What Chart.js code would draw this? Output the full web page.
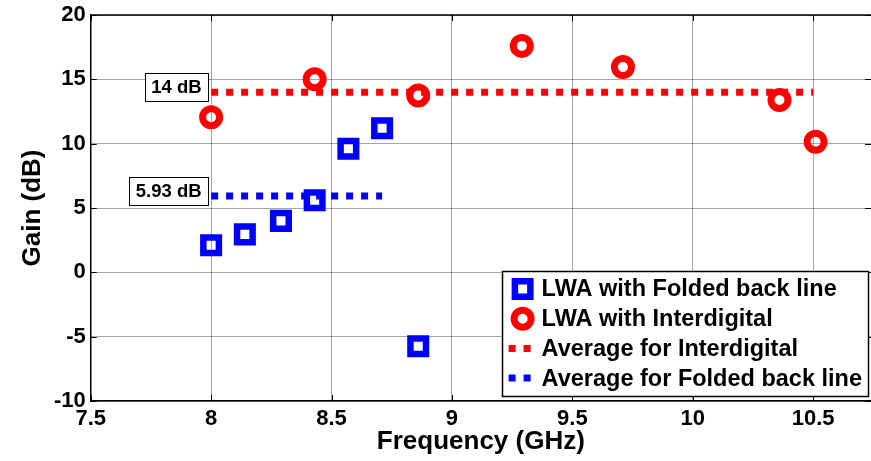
<!DOCTYPE html>
<html>
<head>
<meta charset="utf-8">
<script src="https://cdn.jsdelivr.net/npm/chart.js@4/dist/chart.umd.min.js"></script>
<style>
  html, body { margin: 0; padding: 0; background: #fff; }
  #c { display: block; }
</style>
</head>
<body>
<canvas id="c" width="871" height="461"></canvas>
<script>
// ---- data ----
const foldedFreq = [8.0, 8.14, 8.29, 8.43, 8.57, 8.71, 8.86];
const foldedGain = [2.1, 2.95, 4.0, 5.6, 9.6, 11.2, -5.75];
const interFreq = [8.0, 8.43, 8.86, 9.29, 9.71, 10.36, 10.51];
const interGain = [12.05, 15.0, 13.75, 17.6, 15.95, 13.4, 10.15];
const avgInterFreq = [8.0, 10.5];
const avgInterValue = 14;
const avgFoldedFreq = [8.0, 8.71];
const avgFoldedValue = 5.93;
const avgLabels = ['14 dB', '5.93 dB'];
const seriesNames = ['LWA with Folded back line', 'LWA with Interdigital', 'Average for Interdigital', 'Average for Folded back line'];
const xTicks = [7.5, 8, 8.5, 9, 9.5, 10, 10.5];
const yTicks = [-10, -5, 0, 5, 10, 15, 20];
const xRange = [7.5, 10.74];
const yRange = [-10, 20];

const FONT = "'Liberation Sans', Arial, sans-serif";
const RED = '#ff0000', BLUE = '#0000ff';

const toPts = (xs, ys) => xs.map((x, i) => ({ x: x, y: ys[i] }));
const flat = (xs, v) => xs.map(x => ({ x: x, y: v }));

const overlay = {
  id: 'overlay',
  afterDraw(chart) {
    const ctx = chart.ctx, a = chart.chartArea;
    const xs = chart.scales.x, ys = chart.scales.y;
    ctx.save();
    // top border
    ctx.strokeStyle = '#000'; ctx.lineWidth = 1.5;
    ctx.beginPath(); ctx.moveTo(a.left, a.top); ctx.lineTo(a.right, a.top); ctx.stroke();
    // inward tick marks
    ctx.lineWidth = 1;
    const tl = 6;
    xTicks.forEach(v => {
      const px = Math.round(xs.getPixelForValue(v)) + 0.5;
      ctx.beginPath();
      ctx.moveTo(px, a.top); ctx.lineTo(px, a.top + tl);
      ctx.moveTo(px, a.bottom); ctx.lineTo(px, a.bottom - tl);
      ctx.stroke();
    });
    yTicks.forEach(v => {
      const py = Math.round(ys.getPixelForValue(v)) + 0.5;
      ctx.beginPath();
      ctx.moveTo(a.left, py); ctx.lineTo(a.left + tl, py);
      ctx.moveTo(a.right, py); ctx.lineTo(a.right - tl, py);
      ctx.stroke();
    });
    // average value labels
    ctx.font = 'bold 18.5px ' + FONT;
    ctx.textBaseline = 'middle';
    ctx.textAlign = 'left';
    [[avgInterFreq[0], avgInterValue, avgLabels[0]], [avgFoldedFreq[0], avgFoldedValue, avgLabels[1]]].forEach(([fx, v, txt]) => {
      const right = xs.getPixelForValue(fx) - 3;
      const cy = ys.getPixelForValue(v) - 5;
      const tw = ctx.measureText(txt).width;
      const w = tw + 13, h = 28;
      const left = right - w;
      ctx.fillStyle = '#fff';
      ctx.fillRect(left, cy - h / 2, w, h);
      ctx.strokeStyle = '#000'; ctx.lineWidth = 1;
      ctx.strokeRect(Math.round(left) + 0.5, Math.round(cy - h / 2) + 0.5, Math.round(w), Math.round(h));
      ctx.fillStyle = '#000';
      ctx.fillText(txt, left + 6.5, cy + 1);
    });
    // legend
    ctx.font = 'bold 23.5px ' + FONT;
    let maxW = 0;
    seriesNames.forEach(s => { maxW = Math.max(maxW, ctx.measureText(s).width); });
    const lw = 40 + maxW + 6, lh = 125;
    const lRight = a.right - 3, lBottom = a.bottom - 5;
    const lLeft = lRight - lw, lTop = lBottom - lh;
    ctx.fillStyle = '#fff';
    ctx.fillRect(lLeft, lTop, lw, lh);
    ctx.strokeStyle = '#000'; ctx.lineWidth = 1.5;
    ctx.strokeRect(Math.round(lLeft) + 0.5, Math.round(lTop) + 0.5, Math.round(lw), Math.round(lh));
    const rowY = i => lTop + 18 + i * 29.7;
    const mx = lLeft + 21;
    const ds = chart.data.datasets;
    ctx.strokeStyle = ds[0].borderColor; ctx.lineWidth = 6.5;
    ctx.strokeRect(mx - 7.75, rowY(0) - 7.75, 15.5, 15.5);
    ctx.strokeStyle = ds[1].borderColor; ctx.lineWidth = 7;
    ctx.beginPath(); ctx.arc(mx, rowY(1), 8.5, 0, Math.PI * 2); ctx.stroke();
    [2, 3].forEach(i => {
      ctx.strokeStyle = ds[i].borderColor; ctx.lineWidth = 7;
      ctx.setLineDash([7, 8]); ctx.lineCap = 'butt';
      ctx.beginPath(); ctx.moveTo(lLeft + 7, rowY(i)); ctx.lineTo(lLeft + 36, rowY(i)); ctx.stroke();
      ctx.setLineDash([]);
    });
    ctx.fillStyle = '#000';
    ctx.textBaseline = 'middle';
    seriesNames.forEach((s, i) => ctx.fillText(s, lLeft + 40, rowY(i) + 1));
    ctx.restore();
  }
};

new Chart(document.getElementById('c'), {
  type: 'scatter',
  data: {
    datasets: [
      { label: seriesNames[0], data: toPts(foldedFreq, foldedGain), showLine: false,
        pointStyle: 'rect', pointRadius: 11, pointBorderWidth: 6.5,
        borderColor: BLUE, pointBorderColor: BLUE, backgroundColor: 'rgba(0,0,0,0)', pointBackgroundColor: 'rgba(0,0,0,0)' },
      { label: seriesNames[1], data: toPts(interFreq, interGain), showLine: false,
        pointStyle: 'circle', pointRadius: 8.5, pointBorderWidth: 7,
        borderColor: RED, pointBorderColor: RED, backgroundColor: 'rgba(0,0,0,0)', pointBackgroundColor: 'rgba(0,0,0,0)' },
      { label: seriesNames[2], data: flat(avgInterFreq, avgInterValue), showLine: true,
        borderColor: RED, borderWidth: 7, borderDash: [7, 8], borderCapStyle: 'butt', pointRadius: 0, fill: false },
      { label: seriesNames[3], data: flat(avgFoldedFreq, avgFoldedValue), showLine: true,
        borderColor: BLUE, borderWidth: 7, borderDash: [7, 8], borderCapStyle: 'butt', pointRadius: 0, fill: false }
    ]
  },
  options: {
    responsive: false,
    animation: false,
    devicePixelRatio: 1,
    layout: { autoPadding: false, padding: { top: 0, right: 0, bottom: 0, left: 0 } },
    plugins: { legend: { display: false }, tooltip: { enabled: false } },
    scales: {
      x: {
        type: 'linear', min: xRange[0], max: xRange[1],
        afterBuildTicks: s => { s.ticks = xTicks.map(v => ({ value: v })); },
        afterFit: s => { s.height = 60; },
        grid: { color: 'rgba(0,0,0,0.35)', lineWidth: 1, drawTicks: false },
        border: { display: true, color: '#000', width: 1.5 },
        ticks: { color: '#000', padding: 5, font: { family: FONT, size: 22, weight: 'bold' },
                 maxRotation: 0, autoSkip: false, callback: v => String(v) },
        title: { display: true, text: 'Frequency (GHz)', color: '#000',
                 font: { family: FONT, size: 26, weight: 'bold' }, padding: { top: 0, bottom: 4 } }
      },
      y: {
        type: 'linear', min: yRange[0], max: yRange[1],
        afterBuildTicks: s => { s.ticks = yTicks.map(v => ({ value: v })); },
        afterFit: s => { s.width = 90.7; s.paddingTop = 15; },
        grid: { color: 'rgba(0,0,0,0.35)', lineWidth: 1, drawTicks: false },
        border: { display: true, color: '#000', width: 1.5 },
        ticks: { color: '#000', padding: 5, font: { family: FONT, size: 22, weight: 'bold' },
                 autoSkip: false, callback: v => String(v) },
        title: { display: true, text: 'Gain (dB)', color: '#000',
                 font: { family: FONT, size: 26, weight: 'bold' }, padding: { top: 17, bottom: 0 } }
      }
    }
  },
  plugins: [overlay]
});
</script>
</body>
</html>
